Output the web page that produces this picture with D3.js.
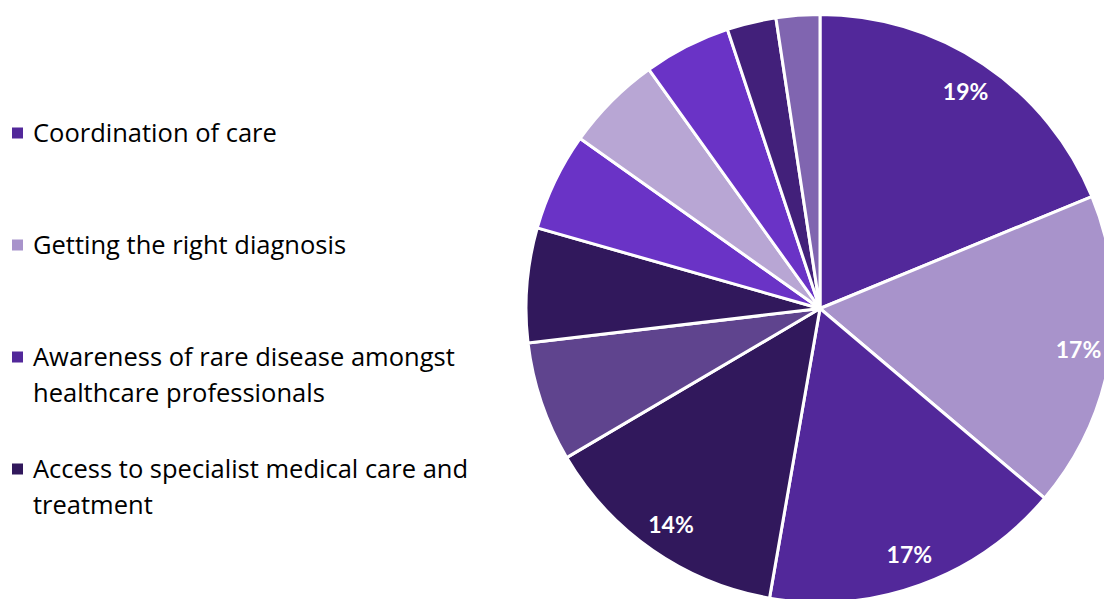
<!DOCTYPE html>
<html>
<head>
<meta charset="utf-8">
<script src="https://cdn.jsdelivr.net/npm/d3@7"></script>
<style>
  html, body { margin: 0; padding: 0; background: #fff; overflow: hidden; }
  svg { display: block; }
</style>
</head>
<body>
<svg id="chart" width="1104" height="599"></svg>
<script>
// Slice values (percent), clockwise from 12 o'clock
const sliceValues = [18.8, 17.4, 16.6, 13.8, 6.6, 6.3, 5.4, 5.3, 4.8, 2.7, 2.4];
const sliceColors = ["#52289a", "#a893cb", "#52289a", "#31185c", "#5f448e", "#31185c",
                     "#6a33c6", "#b8a6d4", "#6a33c6", "#42207a", "#8065b0"];
// Legend entries (only these are visible in the reference)
const legendLabels = [
  ["Coordination of care"],
  ["Getting the right diagnosis"],
  ["Awareness of rare disease amongst", "healthcare professionals"],
  ["Access to specialist medical care and", "treatment"]
];
const legendColors = ["#52289a", "#a893cb", "#52289a", "#31185c"];

const svg = d3.select("#chart");
const cx = 820, cy = 308.5, R = 294;

const pie = d3.pie().sort(null).value(d => d);
const arcs = pie(sliceValues);
const arc = d3.arc().innerRadius(0).outerRadius(R);
const labelArc = d3.arc().innerRadius(R * 0.89).outerRadius(R * 0.89);

const g = svg.append("g").attr("transform", `translate(${cx},${cy})`);
g.selectAll("path").data(arcs).join("path")
  .attr("d", arc)
  .attr("fill", (d, i) => sliceColors[i])
  .attr("stroke", "#fff")
  .attr("stroke-width", 3)
  .attr("stroke-linejoin", "round");

g.selectAll("text").data(arcs.filter(d => d.data >= 10)).join("text")
  .attr("transform", d => `translate(${labelArc.centroid(d)})`)
  .attr("text-anchor", "middle")
  .attr("dominant-baseline", "central")
  .attr("font-family", "Lato, 'Open Sans', sans-serif")
  .attr("font-weight", "bold")
  .attr("font-size", 23)
  .attr("fill", "#fff")
  .text(d => Math.round(d.data) + "%");

// Legend
const rowStart = 133, rowGap = 112, lineH = 35.5;
const leg = svg.append("g");
legendLabels.forEach((lines, i) => {
  const yc = rowStart + i * rowGap;
  leg.append("rect")
    .attr("x", 12).attr("y", yc - 5.5)
    .attr("width", 11).attr("height", 11)
    .attr("fill", legendColors[i]);
  const t = leg.append("text")
    .attr("x", 33).attr("y", yc + 9)
    .attr("font-family", "'Open Sans', sans-serif")
    .attr("font-size", 25.5)
    .attr("fill", "#000");
  lines.forEach((ln, j) => {
    t.append("tspan").attr("x", 33).attr("dy", j === 0 ? 0 : lineH).text(ln);
  });
});
</script>
</body>
</html>
